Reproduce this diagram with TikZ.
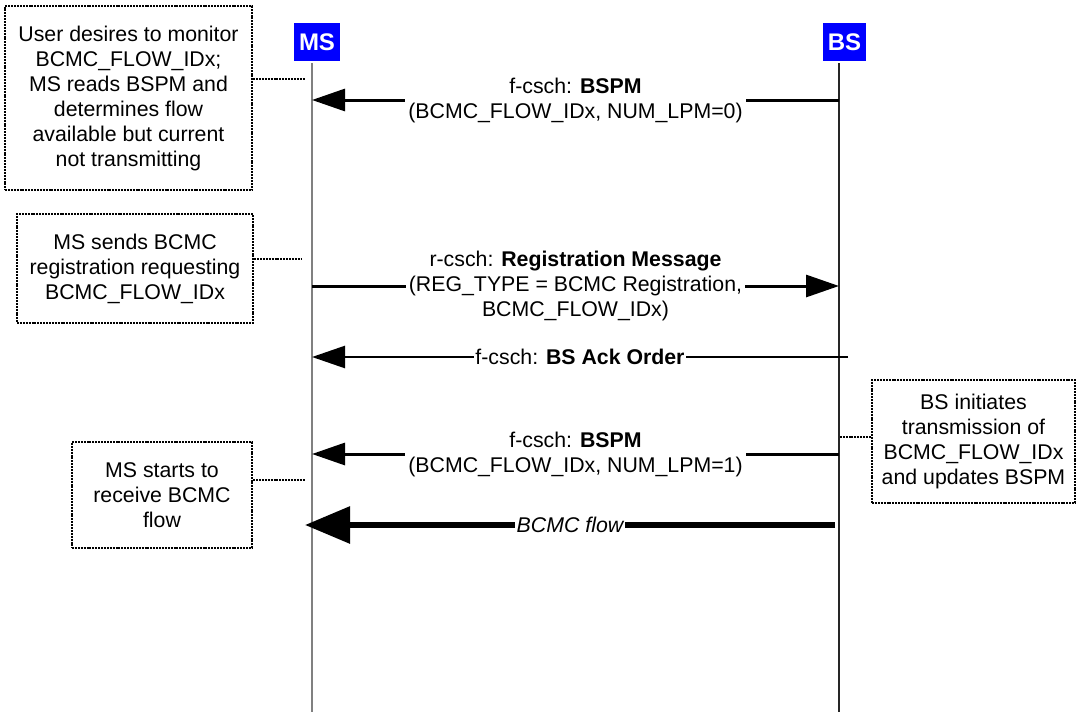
\documentclass[tikz,border=0pt]{standalone}
\usepackage{fontspec}
\setmainfont{Liberation Sans}
\usetikzlibrary{arrows.meta}
\begin{document}
\begin{tikzpicture}[x=1pt,y=-1pt,
 txt/.style={font=\fontsize{21.3}{25}\selectfont, align=center},
 note/.style={txt, draw, line width=2.4pt, dash pattern=on 2pt off 0.9pt, inner sep=0pt},
 link/.style={line width=2.4pt, dash pattern=on 2pt off 0.9pt},
 actor/.style={fill=blue, text=white, font=\fontsize{24}{28}\selectfont\bfseries, inner sep=1pt, minimum height=38pt},
 life/.style={line width=1.2pt},
 msg/.style={line width=3pt, -{Triangle[length=33pt,width=22pt]}},
 bigmsg/.style={line width=6pt, -{Triangle[length=45pt,width=36pt]}},
 lab/.style={txt, fill=white, inner sep=3pt}]
\useasboundingbox (0,0) rectangle (1077,712);

% actors
\node[actor, minimum width=46pt] (MS) at (317,42) {MS};
\node[actor, minimum width=43pt] (BS) at (844.5,42) {BS};

% lifelines
\coordinate (mstop) at (312,63);
\coordinate (msbot) at (312,712);
\coordinate (bstop) at (839,63);
\coordinate (bsbot) at (839,712);
\draw[life, draw=gray] (mstop) -- (msbot);
\draw[life, draw=black!85] (bstop) -- (bsbot);

% message endpoints
\coordinate (ms1) at (312,100);  \coordinate (bs1) at (839,100);
\coordinate (ms2) at (312,286);  \coordinate (bs2) at (839,286);
\coordinate (ms3) at (312,357);  \coordinate (bs3) at (848,357);
\coordinate (ms4) at (312,454);  \coordinate (bs4) at (839,454);
\coordinate (ms5) at (305,525);  \coordinate (bs5) at (835,525);

\draw[msg] (bs1) -- node[lab] (l1) {f-csch: \textbf{BSPM}\\(BCMC\_FLOW\_IDx, NUM\_LPM=0)} (ms1);
\draw[msg] (ms2) -- node[lab] (l2) {r-csch: \textbf{Registration Message}\\(REG\_TYPE = BCMC Registration,\\BCMC\_FLOW\_IDx)} (bs2);
\draw[msg, line width=2.5pt] (bs3) -- node[lab, inner sep=1.5pt] (l3) {f-csch: \textbf{BS Ack Order}} (ms3);
\draw[msg] (bs4) -- node[lab] (l4) {f-csch: \textbf{BSPM}\\(BCMC\_FLOW\_IDx, NUM\_LPM=1)} (ms4);
\draw[bigmsg] (bs5) -- node[lab, inner sep=1.5pt, font=\fontsize{21.3}{25}\selectfont\itshape] (l5) {BCMC flow} (ms5);

% notes
\node[note, minimum width=247pt, minimum height=184pt] (n1) at (128.5,98)
  {User desires to monitor\\BCMC\_FLOW\_IDx;\\MS reads BSPM and\\determines flow\\available but current\\not transmitting};
\node[note, minimum width=236pt, minimum height=109pt] (n2) at (135,268.5)
  {MS sends BCMC\\registration requesting\\BCMC\_FLOW\_IDx};
\node[note, minimum width=180pt, minimum height=106pt] (n3) at (162,495)
  {MS starts to\\receive BCMC\\flow};
\node[note, minimum width=203pt, minimum height=123pt] (n4) at (973.5,441.5)
  {BS initiates\\transmission of\\BCMC\_FLOW\_IDx\\and updates BSPM};

\coordinate (c1) at (305,79);
\coordinate (c2) at (302,259);
\coordinate (c3) at (305,480);
\coordinate (c4) at (840,437);
\draw[link] (n1.east |- c1) -- (c1);
\draw[link] (n2.east |- c2) -- (c2);
\draw[link] (n3.east |- c3) -- (c3);
\draw[link] (n4.west |- c4) -- (c4);
\end{tikzpicture}
\end{document}
